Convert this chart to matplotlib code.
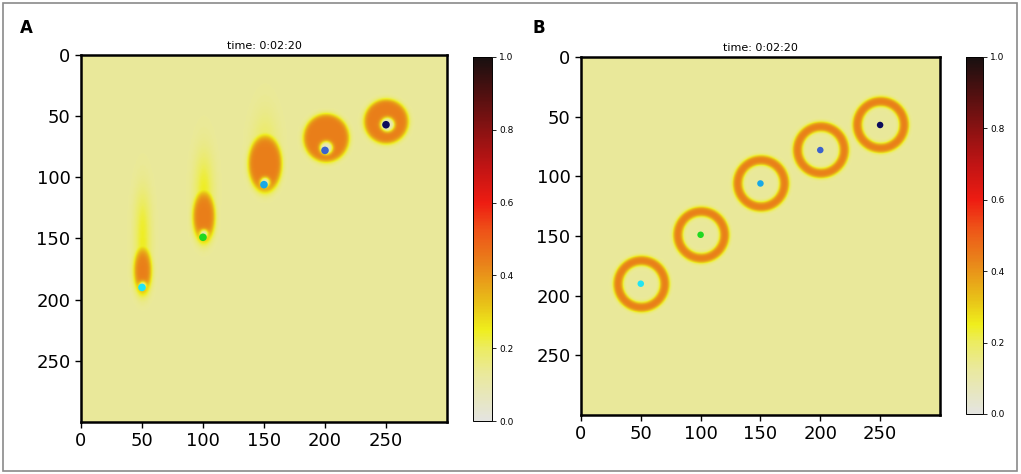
import numpy as np
import matplotlib.pyplot as plt
from matplotlib.colors import LinearSegmentedColormap
from matplotlib.patches import Rectangle

OUTPUT_FILE = 'out.png'

# particle positions (same in both panels), x = column, y = row
part_x = [50, 100, 150, 200, 250]
part_y = [190, 149, 106, 78, 57]
part_colors = ['#22e4f2', '#20d820', '#18a8e6', '#3c62cc', '#0c0c5c']

# panel A: orange wake cores (ellipses)
core_cx = [50, 100, 150, 200, 249]
core_cy = [176, 132, 89, 68, 54.5]
core_a = [7.0, 8.8, 13.5, 18.5, 18.0]
core_b = [18.5, 20.5, 23.0, 19.5, 18.0]
core_level = [0.44, 0.44, 0.44, 0.44, 0.44]

# panel A: faint yellow tails above the cores
tail_cx = [50, 100, 150]
tail_top = [118, 88, 58]
tail_bot = [168, 125, 84]
tail_a = [6.5, 7.5, 10.0]
tail_level = [0.25, 0.26, 0.22]

# panel A: pale spot round each particle
spot_cx = [50, 100, 150, 200, 250]
spot_cy = [188, 146, 104, 76, 57]
spot_r = [2.5, 3.0, 3.5, 5.0, 5.5]
spot_level = 0.06

# panel B: rings round each particle
ring_r = [19.5, 19.5, 19.5, 19.5, 19.5]
ring_half = [3.8, 3.8, 3.8, 3.8, 3.8]
ring_level = 0.44

background = 0.13
cbar_ticks = [0.0, 0.2, 0.4, 0.6, 0.8, 1.0]
axis_ticks = [0, 50, 100, 150, 200, 250]
title_text = 'time: 0:02:20'

cmap = LinearSegmentedColormap.from_list('wake', [
    (0.0, '#e4e4e0'), (0.13, '#eae99a'), (0.2, '#ecec60'), (0.25, '#efee1c'),
    (0.32, '#e8c218'), (0.43, '#e9831a'), (0.52, '#ee5418'), (0.6, '#ee1c12'),
    (0.7, '#c01414'), (0.8, '#8a1212'), (0.9, '#501010'), (1.0, '#181010')])


def sig(d, s):
    return 1.0 / (1.0 + np.exp(d / s))


yy, xx = np.mgrid[0:300, 0:300].astype(float)

# field A
fa = np.full((300, 300), background)
for cx, top, bot, a, lv in zip(tail_cx, tail_top, tail_bot, tail_a, tail_level):
    wx = np.exp(-((xx - cx) / a) ** 2)
    wy = sig(top - yy, 10) * sig(yy - bot, 3)
    fa = np.maximum(fa, background + (lv - background) * wx * wy)
for cx, cy, a, b, lv in zip(core_cx, core_cy, core_a, core_b, core_level):
    r = np.sqrt(((xx - cx) / a) ** 2 + ((yy - cy) / b) ** 2)
    fa = np.maximum(fa, background + (lv - background) * sig((r - 1) * min(a, b), 1.1))
for cx, cy, rs in zip(spot_cx, spot_cy, spot_r):
    d = np.sqrt((xx - cx) ** 2 + (yy - cy) ** 2) - rs
    w = sig(d, 0.9)
    fa = fa * (1 - w) + spot_level * w

# field B
fb = np.full((300, 300), background)
for cx, cy, R, h in zip(part_x, part_y, ring_r, ring_half):
    d = np.abs(np.sqrt((xx - cx) ** 2 + (yy - cy) ** 2) - R) - h
    fb = np.maximum(fb, background + (ring_level - background) * sig(d, 0.8))

fig = plt.figure(figsize=(10.21, 4.74), dpi=100)

axA = fig.add_axes([0.0793, 0.1097, 0.3585, 0.7743])
cbA = fig.add_axes([0.4633, 0.1118, 0.0186, 0.768])
axB = fig.add_axes([0.569, 0.1245, 0.3516, 0.7553])
cbB = fig.add_axes([0.9461, 0.1266, 0.01665, 0.7532])

for ax, cax, field, ms in [(axA, cbA, fa, 30), (axB, cbB, fb, 22)]:
    im = ax.imshow(field, cmap=cmap, vmin=0, vmax=1, aspect='auto',
                   interpolation='bilinear', extent=(0, 300, 300, 0))
    ax.scatter(part_x, part_y, s=ms, c=part_colors, zorder=3, linewidths=0)
    ax.set_xlim(0, 300)
    ax.set_ylim(300, 0)
    ax.set_xticks(axis_ticks)
    ax.set_yticks(axis_ticks)
    ax.tick_params(labelsize=13, length=4, width=1)
    for sp in ax.spines.values():
        sp.set_linewidth(1.8)
    ax.set_title(title_text, fontsize=8, pad=4)
    cb = fig.colorbar(im, cax=cax, ticks=cbar_ticks)
    cb.ax.tick_params(labelsize=6.5, length=3, width=0.6, pad=2)
    cb.outline.set_linewidth(0.7)

fig.text(0.02, 1 - 28 / 474, 'A', fontsize=12, fontweight='bold', va='center')
fig.text(0.522, 1 - 28 / 474, 'B', fontsize=12, fontweight='bold', va='center')

fig.patches.append(Rectangle((3 / 1021, 3 / 474), 1014 / 1021, 468 / 474,
                             transform=fig.transFigure, fill=False,
                             edgecolor='#8a8a8a', linewidth=1.2))

fig.savefig(OUTPUT_FILE, dpi=100)
